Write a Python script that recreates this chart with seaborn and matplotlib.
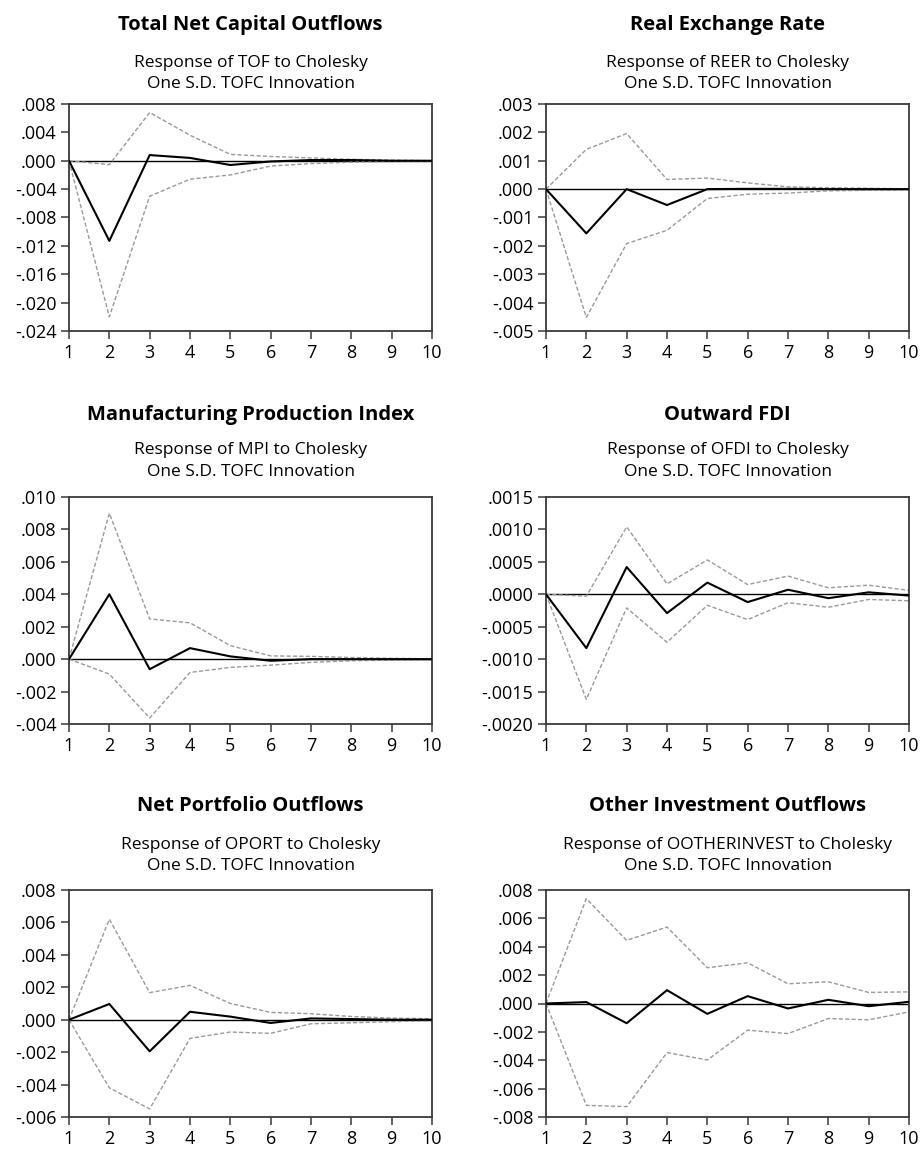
import matplotlib
matplotlib.use("Agg")
import matplotlib.pyplot as plt
import numpy as np
import pandas as pd
import seaborn as sns

# Impulse responses to a one S.D. TOFC shock, horizons 1..10
periods = list(range(1, 11))

tof_resp = [0.0, -0.0113, 0.0008, 0.0004, -0.0006, -0.0001, 0.0001, 0.0001, 0.0, 0.0]
tof_up = [0.0, -0.00055, 0.0068, 0.0036, 0.0009, 0.0006, 0.0004, 0.0002, 0.0001, 0.0]
tof_lo = [0.0, -0.0220, -0.0050, -0.0026, -0.0020, -0.00075, -0.0004, -0.0002, -0.0001, -0.00005]

reer_resp = [0.0, -0.00156, 0.0, -0.00056, 0.0, 0.00001, 0.00001, 0.0, 0.0, 0.0]
reer_up = [0.0, 0.0014, 0.00196, 0.00034, 0.00039, 0.00022, 0.00008, 0.00005, 0.00003, 0.00001]
reer_lo = [0.0, -0.00452, -0.00192, -0.00145, -0.00033, -0.00018, -0.00014, -0.00006, -0.00004, -0.00003]

mpi_resp = [0.0, 0.0040, -0.00062, 0.00068, 0.00017, -0.0001, 0.0, 0.0, 0.0, 0.0]
mpi_up = [0.0, 0.0090, 0.00248, 0.00224, 0.00083, 0.0002, 0.00017, 0.0001, 0.00005, 0.00002]
mpi_lo = [0.0, -0.00092, -0.00363, -0.00082, -0.00051, -0.00037, -0.0002, -0.0001, -0.00006, -0.00003]

ofdi_resp = [0.0, -0.00083, 0.00042, -0.00029, 0.00018, -0.00012, 0.00007, -0.00006, 0.00003, -0.00002]
ofdi_up = [0.0, -0.00003, 0.00104, 0.00016, 0.00053, 0.00015, 0.00028, 0.0001, 0.00014, 0.00006]
ofdi_lo = [0.0, -0.00162, -0.00021, -0.00074, -0.00017, -0.00039, -0.00013, -0.0002, -0.00008, -0.0001]

oport_resp = [0.0, 0.00097, -0.00195, 0.00049, 0.00019, -0.0002, 0.00008, 0.00004, 0.0, 0.0]
oport_up = [0.0, 0.0062, 0.00167, 0.00212, 0.0010, 0.00045, 0.00037, 0.0002, 0.0001, 0.00006]
oport_lo = [0.0, -0.0042, -0.0055, -0.00115, -0.00076, -0.00084, -0.00025, -0.00019, -0.00012, -0.00006]

oinv_resp = [0.0, 0.0001, -0.00139, 0.00094, -0.00073, 0.00052, -0.00035, 0.00026, -0.00019, 0.00012]
oinv_up = [0.0, 0.00739, 0.00445, 0.00539, 0.00252, 0.00287, 0.00139, 0.00153, 0.00078, 0.00082]
oinv_lo = [0.0, -0.00718, -0.00727, -0.00346, -0.00398, -0.00188, -0.00212, -0.00106, -0.00115, -0.00059]

titles = ["Total Net Capital Outflows", "Real Exchange Rate",
          "Manufacturing Production Index", "Outward FDI",
          "Net Portfolio Outflows", "Other Investment Outflows"]
variables = ["TOF", "REER", "MPI", "OFDI", "OPORT", "OOTHERINVEST"]

yticks_tof = [-0.024, -0.020, -0.016, -0.012, -0.008, -0.004, 0.0, 0.004, 0.008]
ylabels_tof = ["-.024", "-.020", "-.016", "-.012", "-.008", "-.004", ".000", ".004", ".008"]
yticks_reer = [-0.005, -0.004, -0.003, -0.002, -0.001, 0.0, 0.001, 0.002, 0.003]
ylabels_reer = ["-.005", "-.004", "-.003", "-.002", "-.001", ".000", ".001", ".002", ".003"]
yticks_mpi = [-0.004, -0.002, 0.0, 0.002, 0.004, 0.006, 0.008, 0.010]
ylabels_mpi = ["-.004", "-.002", ".000", ".002", ".004", ".006", ".008", ".010"]
yticks_ofdi = [-0.0020, -0.0015, -0.0010, -0.0005, 0.0, 0.0005, 0.0010, 0.0015]
ylabels_ofdi = ["-.0020", "-.0015", "-.0010", "-.0005", ".0000", ".0005", ".0010", ".0015"]
yticks_oport = [-0.006, -0.004, -0.002, 0.0, 0.002, 0.004, 0.006, 0.008]
ylabels_oport = ["-.006", "-.004", "-.002", ".000", ".002", ".004", ".006", ".008"]
yticks_oinv = [-0.008, -0.006, -0.004, -0.002, 0.0, 0.002, 0.004, 0.006, 0.008]
ylabels_oinv = ["-.008", "-.006", "-.004", "-.002", ".000", ".002", ".004", ".006", ".008"]

xlabels = [str(p) for p in periods]

panels = [
    (tof_resp, tof_up, tof_lo, yticks_tof, ylabels_tof),
    (reer_resp, reer_up, reer_lo, yticks_reer, ylabels_reer),
    (mpi_resp, mpi_up, mpi_lo, yticks_mpi, ylabels_mpi),
    (ofdi_resp, ofdi_up, ofdi_lo, yticks_ofdi, ylabels_ofdi),
    (oport_resp, oport_up, oport_lo, yticks_oport, ylabels_oport),
    (oinv_resp, oinv_up, oinv_lo, yticks_oinv, ylabels_oinv),
]

sns.set_theme(style="ticks")
FONT = ["Open Sans", "DejaVu Sans"]
plt.rcParams["font.family"] = FONT
plt.rcParams["text.color"] = "black"

W, H = 924, 1150
fig = plt.figure(figsize=(W / 100, H / 100), dpi=100)

col_left = [69, 546]
ax_w = 363
row_top = [104, 497, 890]
ax_h = 227
title_y = [25, 415, 806]
sub_y = [(63, 84), (450, 472), (845, 866)]

SPINE = "#3a3a3a"

for i, (resp, up, lo, yt, yl) in enumerate(panels):
    r, c = divmod(i, 2)
    left = col_left[c]
    top = row_top[r]
    ax = fig.add_axes([left / W, 1 - (top + ax_h) / H, ax_w / W, ax_h / H])

    df = pd.DataFrame({"period": periods * 3,
                       "value": resp + up + lo,
                       "series": ["resp"] * 10 + ["up"] * 10 + ["lo"] * 10})

    ax.axhline(0, color="black", lw=1.0, zorder=1)
    for s in ["up", "lo"]:
        sns.lineplot(data=df[df.series == s], x="period", y="value", ax=ax,
                     color="#9a9a9a", lw=1.0, zorder=2)
        ax.lines[-1].set_dashes((3, 1.6))
    sns.lineplot(data=df[df.series == "resp"], x="period", y="value", ax=ax,
                 color="black", lw=1.5, zorder=3)

    ax.set_xlim(1, 10)
    ax.set_ylim(yt[0], yt[-1])
    ax.set_xticks(periods)
    ax.set_xticklabels(xlabels)
    ax.set_yticks(yt)
    ax.set_yticklabels(yl)
    ax.set_xlabel("")
    ax.set_ylabel("")
    for sp in ax.spines.values():
        sp.set_visible(True)
        sp.set_color(SPINE)
        sp.set_linewidth(1.3)
    ax.tick_params(axis="both", direction="out", length=6, width=1.1,
                   color=SPINE, labelcolor="black")
    ax.tick_params(axis="y", labelsize=13, pad=3)
    ax.tick_params(axis="x", labelsize=13, pad=3.5)

    cx = (left + ax_w / 2) / W
    fig.text(cx, 1 - title_y[r] / H, titles[i], ha="center", va="center",
             fontsize=14.5, fontweight="bold", color="black", family=FONT)
    fig.text(cx, 1 - sub_y[r][0] / H, f"Response of {variables[i]} to Cholesky",
             ha="center", va="center", fontsize=12.5, color="black", family=FONT)
    fig.text(cx, 1 - sub_y[r][1] / H, "One S.D. TOFC Innovation",
             ha="center", va="center", fontsize=12.5, color="black", family=FONT)

fig.savefig("out.png", dpi=100, facecolor="white")
